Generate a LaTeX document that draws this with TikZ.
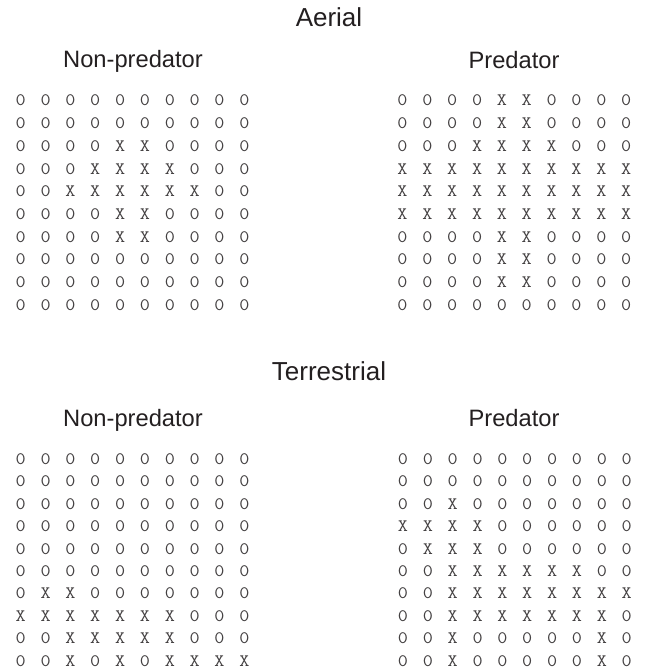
\documentclass[tikz,border=0pt]{standalone}
\usepackage{fontspec}
\setmainfont{Liberation Sans}
\usepackage{graphicx}
\usepackage{xcolor}
\usepackage{tikz}
\definecolor{inkgray}{RGB}{35, 31, 32}
\newcommand{\widecell}[1]{\scalebox{1.12}[1]{#1}}

\begin{document}
\begin{tikzpicture}[
    x=1pt, y=-1pt,
    head/.style={font=\fontsize{26}{28}\selectfont, text=inkgray, anchor=base, inner sep=0pt},
    sub/.style={font=\fontsize{23.7}{26}\selectfont, text=inkgray, anchor=base, inner sep=0pt},
    cell/.style={font=\ttfamily\fontsize{17.5}{17.5}\selectfont, text=inkgray!85, anchor=base, inner sep=0pt}
]
\useasboundingbox (0,0) rectangle (648,671);

%% aerial
\node[head] (aerial) at (329, 26.7) {Aerial};
\node[sub]  (aNP)    at (133, 68)   {Non-predator};
\node[sub]  (aP)     at (514, 68.5) {Predator};

\foreach \rw [count=\r from 0] in {
    {0,0,0,0,0,0,0,0,0,0},
    {0,0,0,0,0,0,0,0,0,0},
    {0,0,0,0,X,X,0,0,0,0},
    {0,0,0,X,X,X,X,0,0,0},
    {0,0,X,X,X,X,X,X,0,0},
    {0,0,0,0,X,X,0,0,0,0},
    {0,0,0,0,X,X,0,0,0,0},
    {0,0,0,0,0,0,0,0,0,0},
    {0,0,0,0,0,0,0,0,0,0},
    {0,0,0,0,0,0,0,0,0,0}}
  \foreach \ch [count=\c from 0] in \rw
    \node[cell] (anp-\r-\c) at ({20.7+24.85*\c}, {106+22.67*\r}) {\widecell{\ch}};

\foreach \rw [count=\r from 0] in {
    {0,0,0,0,X,X,0,0,0,0},
    {0,0,0,0,X,X,0,0,0,0},
    {0,0,0,X,X,X,X,0,0,0},
    {X,X,X,X,X,X,X,X,X,X},
    {X,X,X,X,X,X,X,X,X,X},
    {X,X,X,X,X,X,X,X,X,X},
    {0,0,0,0,X,X,0,0,0,0},
    {0,0,0,0,X,X,0,0,0,0},
    {0,0,0,0,X,X,0,0,0,0},
    {0,0,0,0,0,0,0,0,0,0}}
  \foreach \ch [count=\c from 0] in \rw
    \node[cell] (ap-\r-\c) at ({402.5+24.85*\c}, {106+22.67*\r}) {\widecell{\ch}};

%% terrestrial
\node[head] (terr) at (329, 380.7) {Terrestrial};
\node[sub]  (tNP)  at (133, 426)   {Non-predator};
\node[sub]  (tP)   at (514, 426.5) {Predator};

\foreach \rw [count=\r from 0] in {
    {0,0,0,0,0,0,0,0,0,0},
    {0,0,0,0,0,0,0,0,0,0},
    {0,0,0,0,0,0,0,0,0,0},
    {0,0,0,0,0,0,0,0,0,0},
    {0,0,0,0,0,0,0,0,0,0},
    {0,0,0,0,0,0,0,0,0,0},
    {0,X,X,0,0,0,0,0,0,0},
    {X,X,X,X,X,X,X,0,0,0},
    {0,0,X,X,X,X,X,0,0,0},
    {0,0,X,0,X,0,X,X,X,X}}
  \foreach \ch [count=\c from 0] in \rw
    \node[cell] (tnp-\r-\c) at ({20.7+24.85*\c}, {464.5+22.4*\r}) {\widecell{\ch}};

\foreach \rw [count=\r from 0] in {
    {0,0,0,0,0,0,0,0,0,0},
    {0,0,0,0,0,0,0,0,0,0},
    {0,0,X,0,0,0,0,0,0,0},
    {X,X,X,X,0,0,0,0,0,0},
    {0,X,X,X,0,0,0,0,0,0},
    {0,0,X,X,X,X,X,X,0,0},
    {0,0,X,X,X,X,X,X,X,X},
    {0,0,X,X,X,X,X,X,X,0},
    {0,0,X,0,0,0,0,0,X,0},
    {0,0,X,0,0,0,0,0,X,0}}
  \foreach \ch [count=\c from 0] in \rw
    \node[cell] (tp-\r-\c) at ({403+24.85*\c}, {464.5+22.4*\r}) {\widecell{\ch}};

\end{tikzpicture}
\end{document}
